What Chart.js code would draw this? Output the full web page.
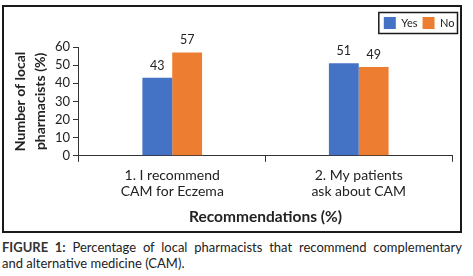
<!DOCTYPE html>
<html>
<head>
<meta charset="utf-8">
<script src="https://cdn.jsdelivr.net/npm/chart.js@4"></script>
<style>
  html, body { margin: 0; padding: 0; background: #fff; }
  body { width: 473px; height: 276px; position: relative; overflow: hidden; font-family: Lato, "Open Sans", sans-serif; }
  #frame { position: absolute; left: 2px; top: 5px; width: 456px; height: 224px; border: 2px solid #1a1a1a; }
  #frame canvas { display: block; }
  #caption { position: absolute; left: 2px; top: 239px; width: 460px; font-size: 13px; line-height: 16px; color: #222; }
  #caption .l1 { text-align: justify; text-align-last: justify; white-space: nowrap; }
  #caption b { color: #333; }
</style>
</head>
<body>
<div id="frame"><canvas id="c" width="456" height="224"></canvas></div>
<div id="caption"><div class="l1"><b>FIGURE 1:</b> Percentage of local pharmacists that recommend complementary</div><div>and alternative medicine (CAM).</div></div>
<script>
const categories = [["1. I recommend", "CAM for Eczema"], ["2. My patients", "ask about CAM"]];
const seriesNames = ["Yes", "No"];
const yesValues = [43, 51];
const noValues = [57, 49];
const yTicks = [0, 10, 20, 30, 40, 50, 60];
const colors = ["#4472C4", "#ED7D31"];

const FONT = "Lato, 'Open Sans', sans-serif";
Chart.defaults.font.family = FONT;
Chart.defaults.color = "#222";
const LEGEND_DX = 7.5;

const valueLabels = {
  id: "valueLabels",
  afterDatasetsDraw(chart) {
    const ctx = chart.ctx;
    ctx.save();
    ctx.font = "12.5px " + FONT;
    ctx.fillStyle = "#222";
    ctx.textAlign = "center";
    ctx.textBaseline = "bottom";
    chart.data.datasets.forEach((ds, i) => {
      const meta = chart.getDatasetMeta(i);
      meta.data.forEach((el, j) => {
        ctx.fillText(String(ds.data[j]), el.x, el.y - 6);
      });
    });
    ctx.restore();
  }
};

const legendExtras = {
  id: "legendExtras",
  beforeInit(chart) {
    const lg = chart.legend;
    if (!lg) return;
    const origFit = lg.fit;
    lg.fit = function () { origFit.call(this); this.height += 8; };
    const origDraw = lg.draw;
    lg.draw = function () {
      const ctx = this.ctx;
      ctx.save();
      ctx.translate(LEGEND_DX, 0);
      origDraw.call(this);
      ctx.restore();
    };
  },
  afterDraw(chart) {
    const lg = chart.legend;
    if (!lg || !lg.legendHitBoxes || !lg.legendHitBoxes.length) return;
    const boxes = lg.legendHitBoxes;
    const x0 = Math.min(...boxes.map(b => b.left)) - 5 + LEGEND_DX;
    const x1 = Math.max(...boxes.map(b => b.left + b.width)) + 3 + LEGEND_DX;
    const y0 = Math.min(...boxes.map(b => b.top)) - 4.5;
    const y1 = Math.max(...boxes.map(b => b.top + b.height)) + 4.5;
    const ctx = chart.ctx;
    ctx.save();
    ctx.strokeStyle = "#1a1a1a";
    ctx.lineWidth = 1.5;
    ctx.strokeRect(x0, y0, x1 - x0, y1 - y0);
    ctx.restore();
  }
};

new Chart(document.getElementById("c"), {
  type: "bar",
  data: {
    labels: categories,
    datasets: [
      { label: seriesNames[0], data: yesValues, backgroundColor: colors[0], categoryPercentage: 0.32, barPercentage: 1 },
      { label: seriesNames[1], data: noValues, backgroundColor: colors[1], categoryPercentage: 0.32, barPercentage: 1 }
    ]
  },
  options: {
    responsive: false,
    animation: false,
    layout: { padding: { left: 6, right: 8, top: 5, bottom: 5 } },
    plugins: {
      legend: {
        position: "top",
        align: "end",
        labels: { boxWidth: 12, boxHeight: 12, padding: 5, font: { size: 11 }, color: "#222" }
      },
      tooltip: { enabled: false }
    },
    scales: {
      x: {
        grid: { display: true, drawOnChartArea: false, offset: true, tickLength: 6, color: "#333" },
        border: { color: "#333", width: 1 },
        ticks: { font: { size: 14, lineHeight: 1.15 }, color: "#222", maxRotation: 0, padding: 5.2 },
        title: { display: true, text: "Recommendations (%)", font: { size: 15.5, weight: "bold" }, color: "#222", padding: { top: 3, bottom: 0 } }
      },
      y: {
        min: 0, max: 60,
        afterBuildTicks(scale) { scale.ticks = yTicks.map(v => ({ value: v })); },
        grid: { display: true, drawOnChartArea: false, tickLength: 6, color: "#333" },
        border: { color: "#333", width: 1 },
        ticks: { font: { size: 13 }, color: "#222", padding: 3, autoSkip: false },
        title: { display: true, text: ["Number of local", "pharmacists (%)"], font: { size: 14, weight: "bold", lineHeight: 1.45 }, color: "#222", padding: { top: 0, bottom: 1.3 } }
      }
    }
  },
  plugins: [valueLabels, legendExtras]
});
</script>
</body>
</html>
